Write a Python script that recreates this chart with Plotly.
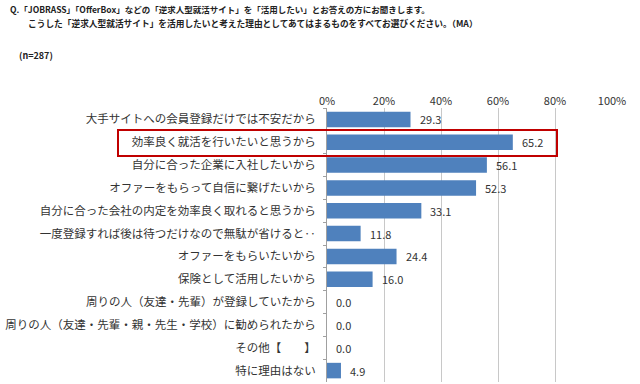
import plotly.graph_objects as go

categories = [
    "大手サイトへの会員登録だけでは不安だから",
    "効率良く就活を行いたいと思うから",
    "自分に合った企業に入社したいから",
    "オファーをもらって自信に繋げたいから",
    "自分に合った会社の内定を効率良く取れると思うから",
    "一度登録すれば後は待つだけなので無駄が省けると‥",
    "オファーをもらいたいから",
    "保険として活用したいから",
    "周りの人（友達・先輩）が登録していたから",
    "周りの人（友達・先輩・親・先生・学校）に勧められたから",
    "その他【　　】",
    "特に理由はない",
]
values = [29.3, 65.2, 56.1, 52.3, 33.1, 11.8, 24.4, 16.0, 0.0, 0.0, 0.0, 4.9]
tick_vals = [0, 20, 40, 60, 80, 100]
tick_text = ["0%", "20%", "40%", "60%", "80%", "100%"]

title_line1 = "Q.「JOBRASS」「OfferBox」などの「逆求人型就活サイト」を「活用したい」とお答えの方にお聞きします。"
title_line2 = "こうした「逆求人型就活サイト」を活用したいと考えた理由としてあてはまるものをすべてお選びください。（MA）"
n_text = "(n=287)"

W, H = 640, 384
L, R, T, B = 327, 28, 108, 2
PW, PH = W - L - R, H - T - B

def px(xp):
    return (xp - L) / PW

def py(yp):
    return 1 - (yp - T) / PH

FONT = "Noto Sans CJK JP"

fig = go.Figure(go.Bar(
    x=values, y=categories, orientation="h",
    marker=dict(color="#4F81BD", line=dict(width=0)),
    width=0.68, hoverinfo="x+y",
))

for v, c in zip(values, categories):
    fig.add_annotation(x=v, y=c, xref="x", yref="y", text=f"{v:.1f}",
                       xanchor="left", yanchor="middle", xshift=7, showarrow=False,
                       font=dict(size=11, color="#333333"))

fig.update_layout(
    width=W, height=H, margin=dict(l=L, r=R, t=T, b=B, autoexpand=False),
    paper_bgcolor="white", plot_bgcolor="white",
    showlegend=False, font=dict(family=FONT, color="#333333"),
    xaxis=dict(range=[0, 100], side="top", tickvals=tick_vals, ticktext=tick_text,
               showgrid=True, gridcolor="#C8C8C8", gridwidth=1, zeroline=False,
               tickfont=dict(size=11, color="#333333"), ticks="", fixedrange=True,
               automargin=False),
    yaxis=dict(autorange="reversed", showline=True, linecolor="#A0A0A0", linewidth=1,
               ticks="outside", tickson="boundaries", ticklen=3, tickcolor="#A0A0A0",
               tickfont=dict(size=11.5, color="#333333"), showgrid=False,
               ticklabelstandoff=8, automargin=False),
)

fig.add_shape(type="rect", xref="paper", yref="paper",
              x0=px(118), x1=px(557), y0=py(130), y1=py(156),
              line=dict(color="#C00000", width=2), fillcolor="rgba(0,0,0,0)")

fig.add_annotation(text="<b>" + title_line1 + "</b>", xref="paper", yref="paper",
                   x=px(8), y=py(9), xanchor="left", yanchor="middle", showarrow=False,
                   font=dict(size=8.5, color="#222222"))
fig.add_annotation(text="<b>" + title_line2 + "</b>", xref="paper", yref="paper",
                   x=px(26), y=py(23), xanchor="left", yanchor="middle", showarrow=False,
                   font=dict(size=8.7, color="#222222"))
fig.add_annotation(text="<b>" + n_text + "</b>", xref="paper", yref="paper",
                   x=px(17), y=py(55), xanchor="left", yanchor="middle", showarrow=False,
                   font=dict(size=9, color="#222222"))

fig.write_html("out.html", config={"displayModeBar": False},
               post_script="document.body.style.margin='0';document.body.style.padding='0';")
